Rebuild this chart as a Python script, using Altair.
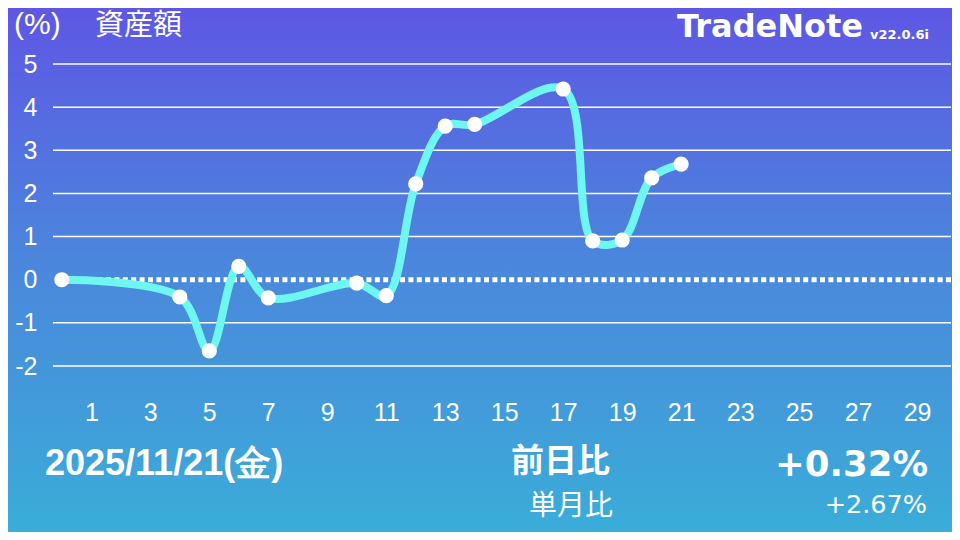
import altair as alt
import pandas as pd

# ---- data ----
days = [0, 4, 5, 6, 7, 10, 11, 12, 13, 14, 17, 18, 19, 20, 21]
values = [0.0, -0.40, -1.65, 0.31, -0.42, -0.08, -0.37, 2.22, 3.56, 3.60, 4.42, 0.90, 0.92, 2.36, 2.68]
grid_levels = [-2, -1, 1, 2, 3, 4, 5]
zero_level = [0]
x_ticks = list(range(1, 30, 2))
y_ticks = [-2, -1, 0, 1, 2, 3, 4, 5]

title_unit = "(%)"
title_name = "資産額"
brand = "TradeNote"
version = "v22.0.6i"
date_label = "2025/11/21(金)"
day_label = "前日比"
month_label = "単月比"
day_value = "+0.32%"
month_value = "+2.67%"

W, H = 898, 302
PL, PT = 45, 56  # canvas offset of the plot area (page = canvas + 8)

def px(page_x):
    return page_x - 8 - PL

def py(page_y):
    return page_y - 8 - PT

xscale = alt.Scale(domain=[-0.3, 30.15], nice=False, zero=False)
yscale = alt.Scale(domain=[-2, 5], nice=False, zero=False)

series = pd.DataFrame({"day": days, "value": values})

bg = alt.Chart(pd.DataFrame({"a": [0]})).mark_rect(
    color=alt.Gradient(
        gradient="linear",
        stops=[
            alt.GradientStop(color="#5E57E4", offset=0),
            alt.GradientStop(color="#4A88DC", offset=0.5),
            alt.GradientStop(color="#3AADD8", offset=1),
        ],
        x1=0, x2=0, y1=0, y2=1,
    )
).encode(
    x=alt.value(-PL), x2=alt.value(944 - PL),
    y=alt.value(-PT), y2=alt.value(524 - PT),
)

grid = alt.Chart(pd.DataFrame({"v": grid_levels})).mark_rule(
    color="white", strokeWidth=1.5
).encode(y=alt.Y("v:Q", scale=yscale))

zero = alt.Chart(pd.DataFrame({"v": zero_level})).mark_rule(
    color="white", strokeWidth=5, strokeDash=[5, 3.4], strokeCap="butt"
).encode(y=alt.Y("v:Q", scale=yscale))

line = alt.Chart(series).mark_line(
    color="#6EF6F1", strokeWidth=8, interpolate="catmull-rom", strokeCap="round"
).encode(
    x=alt.X("day:Q", scale=xscale,
            axis=alt.Axis(values=x_ticks, title=None, domain=False, ticks=False, tickSize=0,
                          grid=False, labelColor="white", labelFont="Liberation Sans",
                          labelFontSize=25, labelPadding=34, labelBaseline="top", zindex=1)),
    y=alt.Y("value:Q", scale=yscale,
            axis=alt.Axis(values=y_ticks, title=None, domain=False, ticks=False, tickSize=0,
                          grid=False, labelColor="white", labelFont="Liberation Sans",
                          labelFontSize=25, labelPadding=16, labelExpr="'' + datum.value",
                          zindex=1)),
)

points = alt.Chart(series).mark_circle(
    color="white", opacity=1, size=230
).encode(x=alt.X("day:Q", scale=xscale), y=alt.Y("value:Q", scale=yscale))


def label(text, x, y, size, font, weight="normal", align="left", baseline="alphabetic"):
    return alt.Chart(pd.DataFrame({"t": [text]})).mark_text(
        color="white", fontSize=size, font=font, fontWeight=weight,
        align=align, baseline=baseline,
    ).encode(text="t:N", x=alt.value(px(x)), y=alt.value(py(y)))


texts = [
    label(title_unit, 14, 34, 30, "Liberation Sans"),
    label(title_name, 95, 35, 29, "Noto Sans CJK JP"),
    label(brand, 863, 37, 32, "DejaVu Sans", "bold", "right"),
    label(version, 929, 39, 13, "DejaVu Sans", "bold", "right"),
    label(date_label, 45, 475, 36, "Liberation Sans", "bold"),
    label(day_label, 610, 472, 33, "Noto Sans CJK JP", "bold", "right"),
    label(month_label, 613, 515, 28, "Noto Sans CJK JP", "normal", "right"),
    label(day_value, 928, 476, 35.5, "DejaVu Sans", "bold", "right"),
    label(month_value, 927, 513, 25.5, "DejaVu Sans", "normal", "right"),
]

chart = alt.layer(bg, grid, zero, line, points, *texts).properties(
    width=W, height=H,
    autosize=alt.AutoSizeParams(type="none"),
    padding={"left": PL, "top": PT, "right": 944 - PL - W, "bottom": 524 - PT - H},
).configure_view(stroke=None).configure(background="#4A88DC")

chart.save("out.html", embed_options={"renderer": "svg", "actions": False})
